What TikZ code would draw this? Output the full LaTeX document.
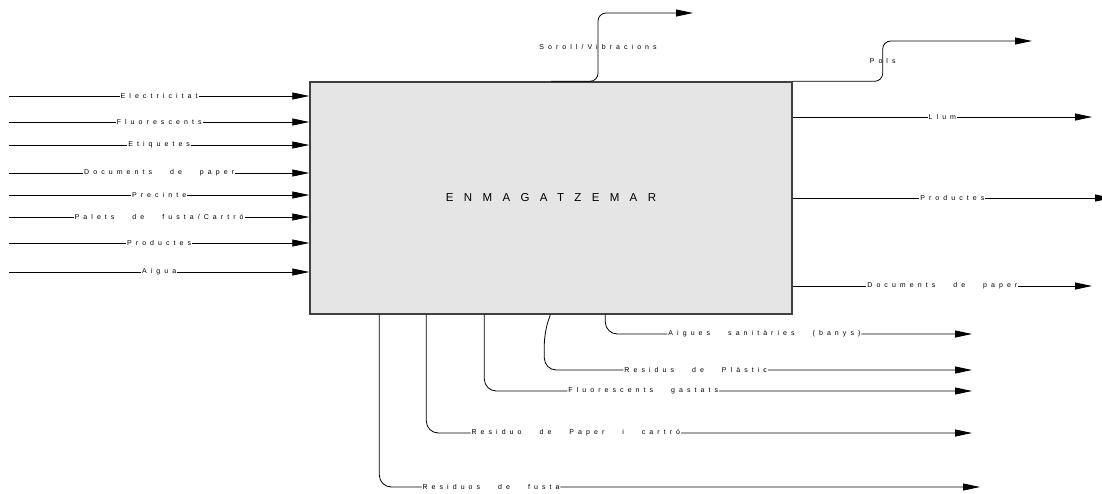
\documentclass[tikz,border=0pt]{standalone}
\usepackage{fontspec}
\setmainfont{Liberation Sans}
\newfontfamily\lblfont[LetterSpace=58,WordSpace=3]{Liberation Sans}
\newfontfamily\procfont[LetterSpace=90]{Liberation Sans}
\usetikzlibrary{arrows.meta}
\definecolor{procfill}{HTML}{E5E5E5}
\definecolor{procline}{HTML}{404040}

\begin{document}
\begin{tikzpicture}[%
            x=1pt, y=-1pt,
            flow/.style={
                draw, line width=0.8pt,
                -{Triangle[length=17pt,width=7pt]},
            },
            lbl/.style={
                fill=white, inner sep=1pt,
                font=\lblfont\fontsize{7}{8}\selectfont,
            },
            tag/.style={
                inner sep=1pt,
                font=\lblfont\fontsize{7}{8}\selectfont,
            },
            elbow/.style={rounded corners=12pt},
        ]
        \useasboundingbox (0,0) rectangle (1102,493);

        % process box
        \node[draw=procline, line width=1.4pt, fill=procfill,
              minimum width=482pt, minimum height=232pt,
              font=\procfont\fontsize{11.5}{13}\selectfont]
            (proc) at (551,198) {ENMAGATZEMAR};

        % inputs
        \coordinate (elec) at (9,96);
        \coordinate (fluo) at (9,122);
        \coordinate (etiq) at (9,145);
        \coordinate (docin) at (9,173);
        \coordinate (prec) at (9,195);
        \coordinate (pal) at (9,217);
        \coordinate (prodin) at (9,243);
        \coordinate (aigua) at (9,272);
        \draw[flow] (elec) -- node[lbl] {Electricitat} (elec -| proc.west);
        \draw[flow] (fluo) -- node[lbl] {Fluorescents} (fluo -| proc.west);
        \draw[flow] (etiq) -- node[lbl] {Etiquetes} (etiq -| proc.west);
        \draw[flow] (docin) -- node[lbl] {Documents de paper} (docin -| proc.west);
        \draw[flow] (prec) -- node[lbl] {Precinte} (prec -| proc.west);
        \draw[flow] (pal) -- node[lbl] {Palets de fusta/Cartró} (pal -| proc.west);
        \draw[flow] (prodin) -- node[lbl] {Productes} (prodin -| proc.west);
        \draw[flow] (aigua) -- node[lbl] {Aigua} (aigua -| proc.west);

        % emissions on top
        \coordinate (soroll) at (693,13);
        \coordinate (pols) at (1032,41);
        \draw[flow, rounded corners=8pt] (proc.north) -- ++(47,0)
            |- node[tag, pos=0.25] {Soroll/Vibracions} (soroll);
        \draw[flow, rounded corners=8pt] (proc.north east) -- ++(90,0)
            |- node[tag, pos=0.25] {Pols} (pols);

        % outputs
        \coordinate (llum) at (1092,117);
        \coordinate (prodout) at (1112,198);
        \coordinate (docout) at (1092,286);
        \draw[flow] (proc.east |- llum) -- node[lbl] {Llum} (llum);
        \draw[flow] (proc.east |- prodout) -- node[lbl] {Productes} (prodout);
        \draw[flow] (proc.east |- docout) -- node[lbl] {Documents de paper} (docout);

        % residues below
        \coordinate (banys) at (972,334);
        \coordinate (plast) at (972,370);
        \coordinate (gastat) at (972,391);
        \coordinate (paper) at (972,433);
        \coordinate (fusta) at (980,487);
        \draw[flow, elbow] ([xshift=296pt]proc.south west)
            |- node[lbl, pos=0.717] {Aigues sanitàries (banys)} (banys);
        \draw[flow, elbow] ([xshift=241pt]proc.south west) -- ++(-6,18)
            |- node[lbl, pos=0.677] {Residus de Plàstic} (plast);
        \draw[flow, elbow] ([xshift=175pt]proc.south west)
            |- node[lbl, pos=0.663] {Fluorescents gastats} (gastat);
        \draw[flow, elbow] ([xshift=117pt]proc.south west)
            |- node[lbl, pos=0.637] {Residuo de Paper i cartró} (paper);
        \draw[flow, elbow] ([xshift=70pt]proc.south west)
            |- node[lbl, pos=0.593] {Residuos de fusta} (fusta);
    \end{tikzpicture}
\end{document}
